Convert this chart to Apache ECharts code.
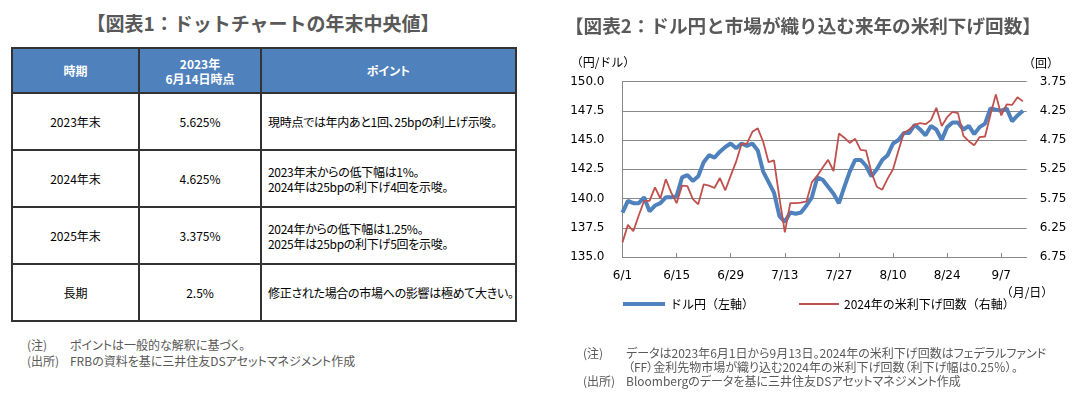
<!DOCTYPE html>
<html>
<head>
<meta charset="utf-8">
<title>ドットチャートとドル円</title>
<script src="https://cdn.jsdelivr.net/npm/echarts@6/dist/echarts.min.js"></script>
<style>
  body { margin: 0; background: #fff; }
  #page { position: relative; width: 1087px; height: 397px; overflow: hidden;
          font-family: "Noto Sans CJK JP", sans-serif; }
  .title { position: absolute; top: 12px; left: 11px; width: 504px; text-align: center;
           font-size: 19px; font-weight: bold; color: #595959; line-height: 22px; white-space: nowrap; }
  table { position: absolute; left: 11px; top: 47px; width: 504px; border-collapse: collapse;
          table-layout: fixed; font-size: 12px; color: #000; font-feature-settings: "palt"; }
  th, td { border: 2px solid #333; padding: 0; white-space: nowrap; }
  th { background: #4F81BD; color: #fff; font-size: 12px; font-weight: bold; height: 43px; line-height: 15px; }
  td { height: 55px; text-align: center; line-height: 15px; }
  td.p { text-align: left; padding-left: 6px; letter-spacing: -0.3px; }
  .note { position: absolute; font-size: 12px; color: #595959; white-space: nowrap; line-height: 14px;
          font-feature-settings: "palt"; }
  #chart { position: absolute; left: 540px; top: 0; width: 547px; height: 397px; }
</style>
</head>
<body>
<div id="page">
  <div class="title">【図表1：ドットチャートの年末中央値】</div>
  <table>
    <colgroup><col style="width:127px"><col style="width:122px"><col style="width:255px"></colgroup>
    <tr><th>時期</th><th>2023年<br>6月14日時点</th><th>ポイント</th></tr>
    <tr><td>2023年末</td><td>5.625%</td><td class="p">現時点では年内あと1回、25bpの利上げ示唆。</td></tr>
    <tr><td>2024年末</td><td>4.625%</td><td class="p">2023年末からの低下幅は1%。<br>2024年は25bpの利下げ4回を示唆。</td></tr>
    <tr><td>2025年末</td><td>3.375%</td><td class="p">2024年からの低下幅は1.25%。<br>2025年は25bpの利下げ5回を示唆。</td></tr>
    <tr><td>長期</td><td>2.5%</td><td class="p">修正された場合の市場への影響は極めて大きい。</td></tr>
  </table>

  <div class="note" style="left:27px; top:338px;">(注)</div>
  <div class="note" style="left:70px; top:338px;">ポイントは一般的な解釈に基づく。</div>
  <div class="note" style="left:27px; top:354px;">(出所)</div>
  <div class="note" style="left:70px; top:354px;">FRBの資料を基に三井住友DSアセットマネジメント作成</div>

  <div id="chart"></div>

  <div class="note" style="left:583px; top:346px;">(注)</div>
  <div class="note" style="left:626px; top:346px;">データは2023年6月1日から9月13日。2024年の米利下げ回数はフェデラルファンド</div>
  <div class="note" style="left:628px; top:360px;">（FF）金利先物市場が織り込む2024年の米利下げ回数（利下げ幅は0.25％）。</div>
  <div class="note" style="left:583px; top:374px;">(出所)</div>
  <div class="note" style="left:626px; top:374px;">Bloombergのデータを基に三井住友DSアセットマネジメント作成</div>
</div>

<script>
// 営業日（6/1〜9/13）
var dates = [
  '6/1', '6/2', '6/5', '6/6', '6/7', '6/8', '6/9', '6/12', '6/13', '6/14',
  '6/15', '6/16', '6/19', '6/20', '6/21', '6/22', '6/23', '6/26', '6/27', '6/28',
  '6/29', '6/30', '7/3', '7/4', '7/5', '7/6', '7/7', '7/10', '7/11', '7/12',
  '7/13', '7/14', '7/17', '7/18', '7/19', '7/20', '7/21', '7/24', '7/25', '7/26',
  '7/27', '7/28', '7/31', '8/1', '8/2', '8/3', '8/4', '8/7', '8/8', '8/9',
  '8/10', '8/11', '8/14', '8/15', '8/16', '8/17', '8/18', '8/21', '8/22', '8/23',
  '8/24', '8/25', '8/28', '8/29', '8/30', '8/31', '9/1', '9/4', '9/5', '9/6',
  '9/7', '9/8', '9/11', '9/12', '9/13'
]

// ドル円（左軸）
var usdjpy = [
  138.8, 139.8, 139.6, 139.6, 140.1, 138.9, 139.4, 139.6, 140.1, 140.1,
  140.2, 141.8, 142.0, 141.5, 141.9, 143.1, 143.7, 143.5, 144.0, 144.4,
  144.7, 144.3, 144.7, 144.5, 144.7, 144.1, 142.3, 141.4, 140.5, 138.5,
  138.0, 138.8, 138.7, 138.8, 139.4, 140.1, 141.8, 141.6, 141.0, 140.4,
  139.6, 141.0, 142.3, 143.3, 143.3, 142.8, 141.9, 142.5, 143.3, 143.7,
  144.7, 145.0, 145.6, 145.6, 146.3, 145.9, 145.4, 146.2, 145.9, 145.0,
  146.1, 146.5, 146.5, 145.9, 146.2, 145.5, 146.1, 146.4, 147.7, 147.6,
  147.5, 147.7, 146.6, 147.1, 147.5
]

// 2024年の米利下げ回数（右軸）
var cuts = [
  6.50, 6.20, 6.31, 6.04, 5.79, 5.79, 5.56, 5.75, 5.42, 5.65,
  5.83, 5.53, 5.54, 5.76, 5.85, 5.51, 5.53, 5.57, 5.40, 5.61,
  5.36, 5.12, 4.82, 4.81, 4.61, 4.55, 4.78, 5.13, 5.10, 5.74,
  6.33, 5.83, 5.83, 5.82, 5.80, 5.47, 5.36, 5.22, 5.09, 5.28,
  4.64, 4.71, 4.80, 4.73, 4.92, 4.93, 5.30, 5.55, 5.60, 5.41,
  5.25, 4.93, 4.63, 4.57, 4.49, 4.46, 4.48, 4.41, 4.20, 4.51,
  4.36, 4.27, 4.29, 4.68, 4.77, 4.84, 4.70, 4.69, 4.32, 3.97,
  4.33, 4.14, 4.15, 4.02, 4.09
]

var numFont = 'DejaVu Sans'
var jpFont = 'Noto Sans CJK JP'

var chart = echarts.init(document.getElementById('chart'))

chart.setOption({
  animation: false,
  title: {
    text: '【図表2：ドル円と市場が織り込む来年の米利下げ回数】',
    left: 20,
    top: 12,
    textStyle: { fontFamily: jpFont, fontSize: 18.6, fontWeight: 'bold', color: '#595959' }
  },
  // 凡例は2つに分けて位置を合わせる
  legend: [
    {
      data: ['ドル円（左軸）'],
      left: 83,
      top: 298,
      padding: 0,
      icon: 'rect',
      itemWidth: 42,
      itemHeight: 4,
      textStyle: { fontFamily: jpFont, fontSize: 12, color: '#000' }
    },
    {
      data: ['2024年の米利下げ回数（右軸）'],
      left: 259,
      top: 298,
      padding: 0,
      icon: 'rect',
      itemWidth: 40,
      itemHeight: 2,
      textStyle: { fontFamily: jpFont, fontSize: 12, color: '#000' }
    }
  ],
  grid: { left: 82.5, top: 81.5, width: 404.2, height: 175.5 },
  xAxis: {
    type: 'value',
    min: 0,
    max: 74.7,
    interval: 10,
    splitLine: { show: false },
    axisLine: { lineStyle: { color: '#888', width: 1 } },
    axisTick: { inside: true, length: 4, lineStyle: { color: '#888' } },
    axisLabel: {
      margin: 13,
      color: '#000',
      fontFamily: numFont,
      fontSize: 12,
      showMaxLabel: false,
      formatter: function (v) {
        return v % 10 === 0 && dates[v] ? dates[v] : ''
      }
    }
  },
  yAxis: [
    {
      type: 'value',
      min: 135,
      max: 150,
      interval: 2.5,
      axisLine: { show: true, lineStyle: { color: '#888', width: 1 } },
      axisTick: { show: false },
      splitLine: { lineStyle: { color: '#888', width: 1 } },
      axisLabel: {
        margin: 18,
        color: '#000',
        fontFamily: numFont,
        fontSize: 12,
        formatter: function (v) { return v.toFixed(1) }
      }
    },
    {
      type: 'value',
      position: 'right',
      inverse: true,
      min: 3.75,
      max: 6.75,
      interval: 0.25,
      axisLine: { show: false },
      axisTick: { show: false },
      splitLine: { show: false },
      axisLabel: {
        margin: 13,
        color: '#000',
        fontFamily: numFont,
        fontSize: 12,
        // 0.5刻みのラベルだけ出す
        formatter: function (v) {
          var k = (v - 3.75) / 0.5
          return Math.abs(k - Math.round(k)) < 1e-6 ? v.toFixed(2) : ''
        }
      }
    }
  ],
  graphic: [
    { type: 'text', x: 63, y: 62,
      style: { text: '（円/ドル）', fontFamily: jpFont, fontSize: 12, fill: '#000',
               align: 'center', verticalAlign: 'middle', textAlign: 'center', textVerticalAlign: 'middle' } },
    { type: 'text', x: 501, y: 63,
      style: { text: '（回）', fontFamily: jpFont, fontSize: 12, fill: '#000',
               align: 'center', verticalAlign: 'middle', textAlign: 'center', textVerticalAlign: 'middle' } },
    { type: 'text', x: 487, y: 292,
      style: { text: '（月/日）', fontFamily: jpFont, fontSize: 12, fill: '#000',
               align: 'center', verticalAlign: 'middle', textAlign: 'center', textVerticalAlign: 'middle' } }
  ],
  series: [
    {
      name: 'ドル円（左軸）',
      type: 'line',
      yAxisIndex: 0,
      data: usdjpy.map(function (v, i) { return [i, v] }),
      symbol: 'none',
      z: 2,
      itemStyle: { color: '#4F81BD' },
      lineStyle: { color: '#4F81BD', width: 4 }
    },
    {
      name: '2024年の米利下げ回数（右軸）',
      type: 'line',
      yAxisIndex: 1,
      data: cuts.map(function (v, i) { return [i, v] }),
      symbol: 'none',
      z: 3,
      itemStyle: { color: '#C0504D' },
      lineStyle: { color: '#C0504D', width: 1.8 }
    }
  ]
})
</script>
</body>
</html>
